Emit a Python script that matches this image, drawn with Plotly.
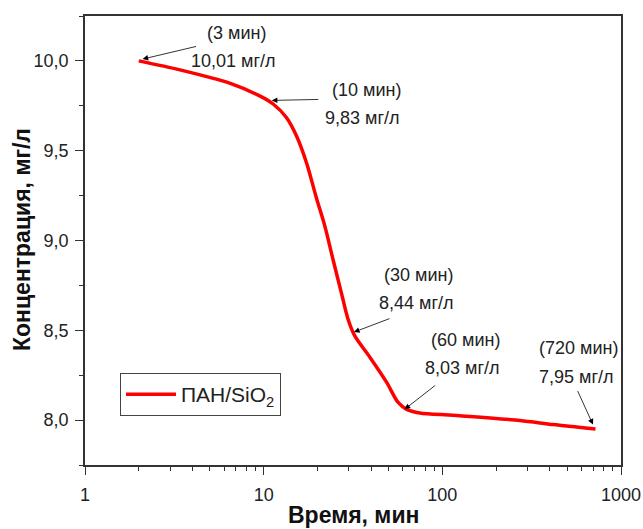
import math
import plotly.graph_objects as go

# ---- data ----
time_min = [2, 3.4, 6.5, 9.5, 11.3, 13.4, 15.3, 17.4, 19.7, 22, 24.5, 27.2, 29.7, 32.3,
            39.3, 48.8, 56.4, 63.2, 74.8, 115, 272, 417, 720]
conc_mgl = [10.0, 9.95, 9.875, 9.805, 9.76, 9.685, 9.58, 9.43, 9.24, 9.08, 8.89, 8.71, 8.56, 8.47,
            8.35, 8.21, 8.10, 8.06, 8.04, 8.027, 7.998, 7.975, 7.95]
series_name = "ПАН/SiO<sub>2</sub>"

label_times = ["3", "10", "30", "60", "720"]
label_conc = ["10,01", "9,83", "8,44", "8,03", "7,95"]
arrow_x = [2.1, 11.1, 32.0, 61.5, 697]
arrow_y = [10.01, 9.78, 8.49, 8.06, 7.975]

x_tickvals = [1, 10, 100, 1000]
x_ticktext = ["1", "10", "100", "1000"]
x_minor = [m * d for d in (1, 10, 100) for m in range(2, 10)]

# ---- layout geometry ----
W, H = 643, 529
L, R, T, B = 85, 22, 16, 64
pw, ph = W - L - R, H - T - B

def paper(px, py):
    return (px - L) / pw, (H - B - py) / ph

arrow_offsets = [(55, -13), (48, -1), (37, -14), (32, -25), (-16, -35)]
text_pos = [((236, 33), (233, 61)), ((366, 90), (362, 118)), ((418, 275), (416, 303)),
            ((465, 340), (462, 368)), ((578, 348), (576, 377))]

font_fam = "Liberation Sans, Arial, sans-serif"

fig = go.Figure()
fig.add_trace(go.Scatter(x=time_min, y=conc_mgl, mode="lines", name=series_name,
                         line=dict(color="#ff0000", width=3.5, shape="spline", smoothing=0.8)))

annotations = []
for i in range(len(label_times)):
    ox, oy = arrow_offsets[i]
    annotations.append(dict(x=math.log10(arrow_x[i]), y=arrow_y[i], xref="x", yref="y",
                            text="", showarrow=True, ax=ox, ay=oy, arrowhead=2,
                            arrowsize=1.4, arrowwidth=0.8, arrowcolor="#000", standoff=0))
    (p1, p2) = text_pos[i]
    for txt, p in ((f"({label_times[i]} мин)", p1), (f"{label_conc[i]} мг/л", p2)):
        xp, yp = paper(*p)
        annotations.append(dict(x=xp, y=yp, xref="paper", yref="paper", text=txt,
                                showarrow=False, xanchor="center", yanchor="middle",
                                font=dict(size=18, color="#222", family=font_fam)))

# axis titles placed as annotations for exact positioning
xt, yt = paper(353, 515)
annotations.append(dict(x=xt, y=yt, xref="paper", yref="paper", text="<b>Время, мин</b>",
                        showarrow=False, xanchor="center", yanchor="middle",
                        font=dict(size=23, color="#111", family=font_fam)))
xt, yt = paper(22, 240)
annotations.append(dict(x=xt, y=yt, xref="paper", yref="paper", text="<b>Концентрация, мг/л</b>",
                        showarrow=False, xanchor="center", yanchor="middle", textangle=-90,
                        font=dict(size=23, color="#111", family=font_fam)))

fig.update_layout(
    width=W, height=H, margin=dict(l=L, r=R, t=T, b=B, autoexpand=False),
    paper_bgcolor="white", plot_bgcolor="white",
    separators=", ",
    font=dict(family=font_fam, size=18, color="#222"),
    showlegend=True,
    legend=dict(x=(120 - L) / pw, y=(H - B - 373) / ph, xanchor="left", yanchor="top",
                bordercolor="#444", borderwidth=1, bgcolor="white", itemwidth=50,
                font=dict(size=21, family=font_fam, color="#222")),
    annotations=annotations,
)
fig.update_xaxes(type="log", range=[0, 3], tickvals=x_tickvals, ticktext=x_ticktext,
                 ticks="outside", ticklen=8, tickwidth=1.3, tickcolor="#333",
                 showline=True, linecolor="#333", linewidth=1.5, mirror=True,
                 showgrid=False, zeroline=False, automargin=False, ticklabelstandoff=5,
                 minor=dict(tickvals=x_minor, ticks="outside", ticklen=4, tickwidth=1,
                            tickcolor="#333", showgrid=False),
                 tickfont=dict(size=18))
fig.update_yaxes(range=[7.75, 10.25], tick0=8, dtick=0.5, tickformat=".1f",
                 ticks="outside", ticklen=8, tickwidth=1.3, tickcolor="#333",
                 showline=True, linecolor="#333", linewidth=1.5, mirror=True,
                 showgrid=False, zeroline=False, automargin=False, ticklabelstandoff=3,
                 minor=dict(ticks="outside", ticklen=4, dtick=0.25, tick0=7.75, tickwidth=1,
                            tickcolor="#333", showgrid=False),
                 tickfont=dict(size=18))

fig.write_html("out.html")
